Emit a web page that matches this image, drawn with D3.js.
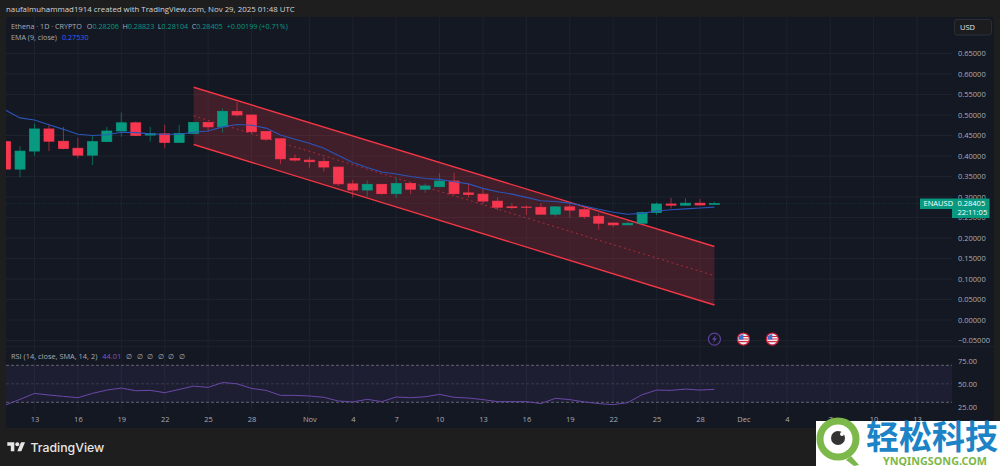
<!DOCTYPE html>
<html>
<head>
<meta charset="utf-8">
<script src="https://cdn.jsdelivr.net/npm/d3@7"></script>
<style>
  html, body { margin: 0; padding: 0; background: #1e1e1e; overflow: hidden; }
  svg { display: block; }
  text { font-family: "Open Sans", sans-serif; }
</style>
</head>
<body>
<svg id="chart" width="1000" height="466"></svg>
<script>
// first candle is Oct 11 2025, one value per day up to Nov 29
const firstDay = new Date(Date.UTC(2025, 9, 11));
const opens = [0.435, 0.368, 0.412, 0.466, 0.436, 0.419, 0.402, 0.435, 0.461, 0.481, 0.451, 0.454, 0.433, 0.455, 0.482, 0.471, 0.509, 0.500, 0.460, 0.442, 0.394, 0.390, 0.387, 0.373, 0.332, 0.317, 0.331, 0.308, 0.333, 0.319, 0.325, 0.339, 0.310, 0.307, 0.290, 0.276, 0.2756, 0.275, 0.258, 0.276, 0.269, 0.253, 0.2366, 0.232, 0.236, 0.262, 0.283, 0.280, 0.285, 0.28206];
const highs = [0.437, 0.424, 0.479, 0.478, 0.471, 0.445, 0.450, 0.471, 0.506, 0.484, 0.471, 0.476, 0.476, 0.483, 0.484, 0.516, 0.532, 0.501, 0.461, 0.443, 0.404, 0.398, 0.396, 0.374, 0.341, 0.341, 0.332, 0.346, 0.337, 0.333, 0.358, 0.359, 0.333, 0.321, 0.299, 0.285, 0.279, 0.285, 0.277, 0.285, 0.275, 0.260, 0.237, 0.240, 0.265, 0.287, 0.298, 0.297, 0.295, 0.28823];
const lows = [0.368, 0.348, 0.401, 0.412, 0.416, 0.394, 0.378, 0.434, 0.447, 0.449, 0.435, 0.419, 0.432, 0.454, 0.459, 0.457, 0.496, 0.456, 0.437, 0.380, 0.386, 0.371, 0.362, 0.327, 0.298, 0.301, 0.306, 0.298, 0.307, 0.310, 0.325, 0.305, 0.299, 0.283, 0.268, 0.270, 0.256, 0.257, 0.252, 0.250, 0.246, 0.220, 0.226, 0.231, 0.235, 0.256, 0.272, 0.278, 0.279, 0.28104];
const closes = [0.368, 0.412, 0.466, 0.436, 0.418, 0.402, 0.435, 0.461, 0.481, 0.450, 0.455, 0.433, 0.455, 0.482, 0.471, 0.509, 0.500, 0.459, 0.441, 0.393, 0.390, 0.386, 0.373, 0.332, 0.317, 0.331, 0.308, 0.333, 0.319, 0.327, 0.339, 0.308, 0.306, 0.290, 0.275, 0.274, 0.2749, 0.258, 0.276, 0.268, 0.252, 0.236, 0.232, 0.236, 0.262, 0.283, 0.280, 0.285, 0.2805, 0.28405];
const emaValues = [0.512, 0.493, 0.488, 0.476, 0.465, 0.453, 0.450, 0.452, 0.458, 0.457, 0.454, 0.453, 0.453, 0.458, 0.461, 0.471, 0.477, 0.475, 0.468, 0.451, 0.441, 0.431, 0.419, 0.401, 0.384, 0.372, 0.361, 0.356, 0.350, 0.345, 0.343, 0.337, 0.332, 0.321, 0.313, 0.307, 0.299, 0.291, 0.289, 0.285, 0.278, 0.270, 0.263, 0.258, 0.260, 0.266, 0.269, 0.271, 0.273, 0.2753];
const rsiValues = [27.1, 33.2, 39.6, 37.9, 36.4, 35, 39.6, 43.2, 45.4, 42.5, 42.9, 40.4, 43.9, 47.5, 46.1, 51.4, 50, 45, 42.9, 37.5, 37.5, 36.8, 35.4, 31.4, 30.4, 33.2, 30.7, 35.7, 35, 36, 38.6, 35.4, 34.6, 32.9, 30.7, 30.7, 30.7, 28.6, 34.3, 32.9, 30.4, 28.6, 27.5, 29.6, 38.2, 43.2, 42.9, 44.3, 43.2, 44.01];

// regression channel drawing, from Oct 24 to Nov 29
const channelDays = [new Date(Date.UTC(2025, 9, 24)), new Date(Date.UTC(2025, 10, 29))];
const channelUpper = [0.5676, 0.1793];
const channelMiddle = [0.498, 0.108];
const channelLower = [0.428, 0.0366];

const priceTicks = [0.65, 0.6, 0.55, 0.5, 0.45, 0.4, 0.35, 0.3, 0.25, 0.2, 0.15, 0.1, 0.05, 0, -0.05];
const rsiTicks = [75, 50, 25];
const rsiBands = [70, 50, 30];
const timeTicks = [[9, 13], [9, 16], [9, 19], [9, 22], [9, 25], [9, 28], [10, 1], [10, 4], [10, 7], [10, 10], [10, 13], [10, 16], [10, 19], [10, 22], [10, 25], [10, 28], [11, 1], [11, 4], [11, 7], [11, 10], [11, 13]]
  .map(d => new Date(Date.UTC(2025, d[0], d[1])));
const eventDays = [new Date(Date.UTC(2025, 10, 29)), new Date(Date.UTC(2025, 11, 1)), new Date(Date.UTC(2025, 11, 3))];
const eventKinds = ["bolt", "flag", "flag"];

const lastPrice = 0.28405;

const green = "#089981", red = "#f7374f", textColor = "#a9acb5", gridColor = "#1e222d";
const days = opens.map((d, i) => d3.utcDay.offset(firstDay, i));

const svg = d3.select("#chart");

const xScale = d3.scaleUtc()
  .domain([new Date(Date.UTC(2025, 9, 13)), new Date(Date.UTC(2025, 11, 13))])
  .range([34.5, 917]);
const yScale = d3.scaleLinear().domain([0, 0.65]).range([320, 53.5]);
const rsiScale = d3.scaleLinear().domain([30, 70]).range([402.3, 365.3]);

svg.append("defs").append("clipPath").attr("id", "pane")
  .append("rect").attr("x", 6).attr("y", 17).attr("width", 946).attr("height", 411);

// panel
svg.append("rect").attr("x", 6).attr("y", 17).attr("width", 988).attr("height", 411).attr("fill", "#141823");

// grid
const pane = svg.append("g").attr("clip-path", "url(#pane)");
pane.append("g").selectAll("line").data(timeTicks).join("line")
  .attr("x1", d => xScale(d)).attr("x2", d => xScale(d)).attr("y1", 17).attr("y2", 411)
  .attr("stroke", gridColor);
pane.append("g").selectAll("line").data(priceTicks).join("line")
  .attr("x1", 6).attr("x2", 952).attr("y1", d => yScale(d)).attr("y2", d => yScale(d))
  .attr("stroke", gridColor);
svg.append("line").attr("x1", 6).attr("x2", 994).attr("y1", 346.7).attr("y2", 346.7).attr("stroke", "#1e222d");

// channel fill and edges
const channelRows = channelDays.map((d, i) => ({ day: d, up: channelUpper[i], mid: channelMiddle[i], low: channelLower[i] }));
const channelLine = key => d3.line().x(d => xScale(d.day)).y(d => yScale(d[key]))(channelRows);
pane.append("path")
  .attr("d", d3.area().x(d => xScale(d.day)).y0(d => yScale(d.low)).y1(d => yScale(d.up))(channelRows))
  .attr("fill", "rgba(242,54,69,0.2)");
pane.append("path").attr("d", channelLine("mid")).attr("fill", "none")
  .attr("stroke", "#f23645").attr("stroke-opacity", 0.6).attr("stroke-dasharray", "2 3");
["up", "low"].forEach(key => {
  pane.append("path").attr("d", channelLine(key)).attr("fill", "none")
    .attr("stroke", "#f23645").attr("stroke-width", 1.4);
});

// last price line
pane.append("line").attr("x1", 6).attr("x2", 952).attr("y1", yScale(lastPrice)).attr("y2", yScale(lastPrice))
  .attr("stroke", green).attr("stroke-opacity", 0.2).attr("stroke-dasharray", "1 2");

// candles
const candles = pane.append("g").selectAll("g").data(days).join("g")
  .attr("fill", (d, i) => closes[i] >= opens[i] ? green : red)
  .attr("stroke", (d, i) => closes[i] >= opens[i] ? green : red);
candles.append("line")
  .attr("x1", d => xScale(d)).attr("x2", d => xScale(d))
  .attr("y1", (d, i) => yScale(highs[i])).attr("y2", (d, i) => yScale(lows[i]))
  .attr("stroke-opacity", 0.6);
candles.append("rect")
  .attr("x", d => xScale(d) - 5).attr("width", 10)
  .attr("y", (d, i) => yScale(Math.max(opens[i], closes[i])))
  .attr("height", (d, i) => Math.abs(yScale(opens[i]) - yScale(closes[i])))
  .attr("stroke-width", 0.7);

// EMA
pane.append("path")
  .attr("d", d3.line().x(d => xScale(d)).y((d, i) => yScale(emaValues[i]))(days))
  .attr("fill", "none").attr("stroke", "#2b55b8").attr("stroke-width", 1.1);

// RSI pane
pane.append("rect").attr("x", 6).attr("width", 946)
  .attr("y", rsiScale(70)).attr("height", rsiScale(30) - rsiScale(70))
  .attr("fill", "rgba(126,87,194,0.1)");
pane.append("g").selectAll("line").data(rsiBands).join("line")
  .attr("x1", 6).attr("x2", 952).attr("y1", d => rsiScale(d)).attr("y2", d => rsiScale(d))
  .attr("stroke", "#787b86").attr("stroke-opacity", d => d === 50 ? 0.3 : 0.75).attr("stroke-dasharray", "3 2");
pane.append("path")
  .attr("d", d3.line().x(d => xScale(d)).y((d, i) => rsiScale(rsiValues[i]))(days))
  .attr("fill", "none").attr("stroke", "#6a48a8").attr("stroke-width", 1);

// axes
function styleAxis(g) {
  g.select(".domain").remove();
  g.selectAll("line").remove();
  g.selectAll("text").attr("fill", textColor).attr("font-size", 7.5);
}
const priceFormat = d3.format(".5f");
svg.append("g").attr("transform", "translate(950,0)")
  .call(d3.axisRight(yScale).tickValues(priceTicks).tickFormat(priceFormat).tickSize(0).tickPadding(8))
  .call(styleAxis);
svg.append("g").attr("transform", "translate(950,0)")
  .call(d3.axisRight(rsiScale).tickValues(rsiTicks).tickFormat(d3.format(".2f")).tickSize(0).tickPadding(8))
  .call(styleAxis);
svg.append("g").attr("transform", "translate(0,414)")
  .call(d3.axisBottom(xScale).tickValues(timeTicks).tickSize(0).tickPadding(3)
    .tickFormat(d => d.getUTCDate() === 1 ? d3.utcFormat("%b")(d) : d3.utcFormat("%-d")(d)))
  .call(styleAxis);

// header and legends
svg.append("text").attr("x", 6).attr("y", 12).attr("fill", "#d1d4dc").attr("font-size", 7.85)
  .text("naufalmuhammad1914 created with TradingView.com, Nov 29, 2025 01:48 UTC");

const legend = svg.append("text").attr("x", 11).attr("y", 29).attr("font-size", 7.2).attr("fill", textColor);
legend.append("tspan").text("Ethena · 1D · CRYPTO");
[["O", "0.28206"], ["H", "0.28823"], ["L", "0.28104"], ["C", "0.28405"]].forEach((d, i) => {
  legend.append("tspan").attr("dx", i === 0 ? 5 : 3.5).text(d[0]);
  legend.append("tspan").attr("fill", green).text(d[1]);
});
legend.append("tspan").attr("dx", 4).attr("fill", green).text("+0.00199 (+0.71%)");

const emaLegend = svg.append("text").attr("x", 11).attr("y", 40).attr("font-size", 7.2).attr("fill", textColor);
emaLegend.append("tspan").text("EMA (9, close)");
emaLegend.append("tspan").attr("dx", 5).attr("fill", "#2962ff").text("0.27530");

const rsiLegend = svg.append("text").attr("x", 11).attr("y", 359).attr("font-size", 7.4).attr("fill", textColor);
rsiLegend.append("tspan").text("RSI (14, close, SMA, 14, 2)");
rsiLegend.append("tspan").attr("dx", 5).attr("fill", "#7e57c2").text("44.01");
rsiLegend.append("tspan").attr("dx", 5).attr("word-spacing", 2.6).text("∅ ∅ ∅ ∅ ∅ ∅");

// USD button
svg.append("rect").attr("x", 954.5).attr("y", 19.5).attr("width", 37).attr("height", 15.5).attr("rx", 2.5)
  .attr("fill", "#1c1c1f").attr("stroke", "#2a2e39");
svg.append("text").attr("x", 960).attr("y", 30).attr("fill", "#e0e3eb").attr("font-size", 7.5).text("USD");

// price tag
svg.append("rect").attr("x", 920).attr("y", yScale(lastPrice) - 5).attr("width", 32).attr("height", 10.5).attr("fill", green);
svg.append("rect").attr("x", 952).attr("y", yScale(lastPrice) - 5).attr("width", 37.5).attr("height", 19.5).attr("fill", green);
svg.append("text").attr("x", 923.5).attr("y", yScale(lastPrice) + 2.8).attr("fill", "#fff").attr("font-size", 7.5).text("ENAUSD");
svg.append("text").attr("x", 957.5).attr("y", yScale(lastPrice) + 2.8).attr("fill", "#fff").attr("font-size", 7.5).text("0.28405");
svg.append("text").attr("x", 957.5).attr("y", yScale(lastPrice) + 11.5).attr("fill", "#fff").attr("font-size", 7.5).text("22:11:05");

// event icons
const iconY = yScale(-0.0465);
const icons = svg.append("g").selectAll("g").data(eventDays).join("g")
  .attr("transform", d => `translate(${xScale(d)},${iconY})`);
icons.each(function (d, i) {
  const g = d3.select(this);
  if (eventKinds[i] === "bolt") {
    g.append("circle").attr("r", 6).attr("fill", "#141823").attr("stroke", "#5e3f99").attr("stroke-width", 1.2);
    g.append("path").attr("d", "M1.4 -4.2L-2.6 0.7H-0.3L-1.4 4.2L2.6 -0.7H0.3Z").attr("fill", "#5e3f99");
  } else {
    g.append("circle").attr("r", 6).attr("fill", "#f0f0f4").attr("stroke", "#c4203a").attr("stroke-width", 1.3);
    g.append("path").attr("d", "M-4.8 -3H4.8V-2H-4.8ZM-4.8 -0.5H4.8V0.5H-4.8ZM-4.6 2H4.6V3.2H-4.6Z").attr("fill", "#d8283f");
    g.append("path").attr("d", "M0 -4.9A4.9 4.9 0 0 0 -4.9 0.4H0Z").attr("fill", "#3d6fd0");
  }
});

// TradingView logo
const logo = svg.append("g").attr("transform", "translate(7.3,440.3) scale(0.5)").attr("fill", "#e6e6e6");
logo.append("path").attr("d", "M14 22H7V11H0V4h14v18zM28 22h-8l7.5-18h8L28 22z");
logo.append("circle").attr("cx", 20).attr("cy", 8).attr("r", 4);
svg.append("text").attr("x", 30.5).attr("y", 451.5).attr("fill", "#e6e6e6").attr("font-size", 12.3)
  .attr("font-weight", 500).style("font-family", "Inter, sans-serif").text("TradingView");

// site watermark in the corner
const mark = svg.append("g");
mark.append("rect").attr("x", 816).attr("y", 421).attr("width", 184).attr("height", 45).attr("fill", "#fff");
mark.append("path").attr("d", "M851 456L859 465L854 466L846 460Z").attr("fill", "#7cb84a");
mark.append("circle").attr("cx", 838).attr("cy", 439).attr("r", 18).attr("fill", "#fff")
  .attr("stroke", "#7cb84a").attr("stroke-width", 7);
mark.append("circle").attr("cx", 838).attr("cy", 438).attr("r", 7).attr("fill", "#333");
mark.append("circle").attr("cx", 842).attr("cy", 434).attr("r", 2).attr("fill", "#fff");
mark.append("text").attr("x", 866).attr("y", 449).attr("fill", "#1b83c6").attr("font-size", 33).attr("font-weight", 700)
  .style("font-family", "'Noto Sans CJK SC'").text("轻松科技");
mark.append("text").attr("x", 883).attr("y", 464.5).attr("fill", "#7cb84a").attr("font-size", 10.8).attr("font-weight", 700)
  .style("font-family", "'Noto Sans', sans-serif").text("YNQINGSONG.COM");
</script>
</body>
</html>
